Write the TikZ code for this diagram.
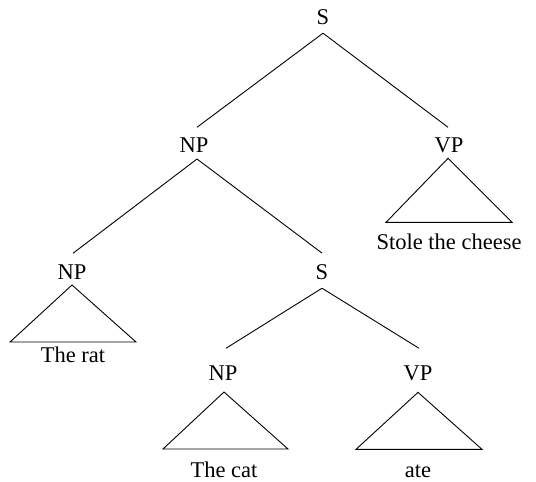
\documentclass[tikz,border=0pt]{standalone}
\usepackage{fontspec}
\setmainfont{Liberation Serif}
\begin{document}
\begin{tikzpicture}[x=1pt,y=-1pt,
  lbl/.style={inner sep=0pt,outer sep=0pt,anchor=base,font=\fontsize{22.5}{27}\selectfont},
  edge/.style={line width=0.9pt,line join=miter},
  tri/.style={line width=0.9pt,line join=miter}]
\useasboundingbox (0,0) rectangle (536,482);
% labels
\node[lbl] (s1) at (323,24) {S};
\node[lbl] (np1) at (194,152) {NP};
\node[lbl] (vp1) at (449,152) {VP};
\node[lbl] (stole) at (449,249) {Stole the cheese};
\node[lbl] (np2) at (72,279) {NP};
\node[lbl] (s2) at (322,279) {S};
\node[lbl] (rat) at (73,362) {The rat};
\node[lbl] (np3) at (223,380) {NP};
\node[lbl] (vp3) at (418,380) {VP};
\node[lbl] (cat) at (224,477) {The cat};
\node[lbl] (ate) at (418,477) {ate};
% branches
\draw[edge] ([yshift=-9pt]s1.south) -- ([xshift=3pt,yshift=10pt]np1.north);
\draw[edge] ([yshift=-9pt]s1.south) -- ([xshift=-1pt,yshift=10pt]vp1.north);
\draw[edge] ([xshift=3pt,yshift=-7pt]np1.south) -- ([xshift=1pt,yshift=11pt]np2.north);
\draw[edge] ([xshift=3pt,yshift=-7pt]np1.south) -- ([yshift=11pt]s2.north);
\draw[edge] ([yshift=-9pt]s2.south) -- ([xshift=3pt,yshift=17pt]np3.north);
\draw[edge] ([yshift=-9pt]s2.south) -- ([xshift=1pt,yshift=17pt]vp3.north);
% triangles
\draw[tri] ([xshift=-1pt,yshift=-6pt]vp1.south) -- ++(-62,64) -- ++(126,0) -- cycle;
\draw[tri] ([yshift=-6pt]np2.south) -- ++(-62,57) -- ++(126,0) -- cycle;
\draw[tri] ([xshift=1pt,yshift=-12pt]np3.south) -- ++(-61,57) -- ++(125,0) -- cycle;
\draw[tri] ([yshift=-12pt]vp3.south) -- ++(-62,57) -- ++(126,0) -- cycle;
\end{tikzpicture}
\end{document}
